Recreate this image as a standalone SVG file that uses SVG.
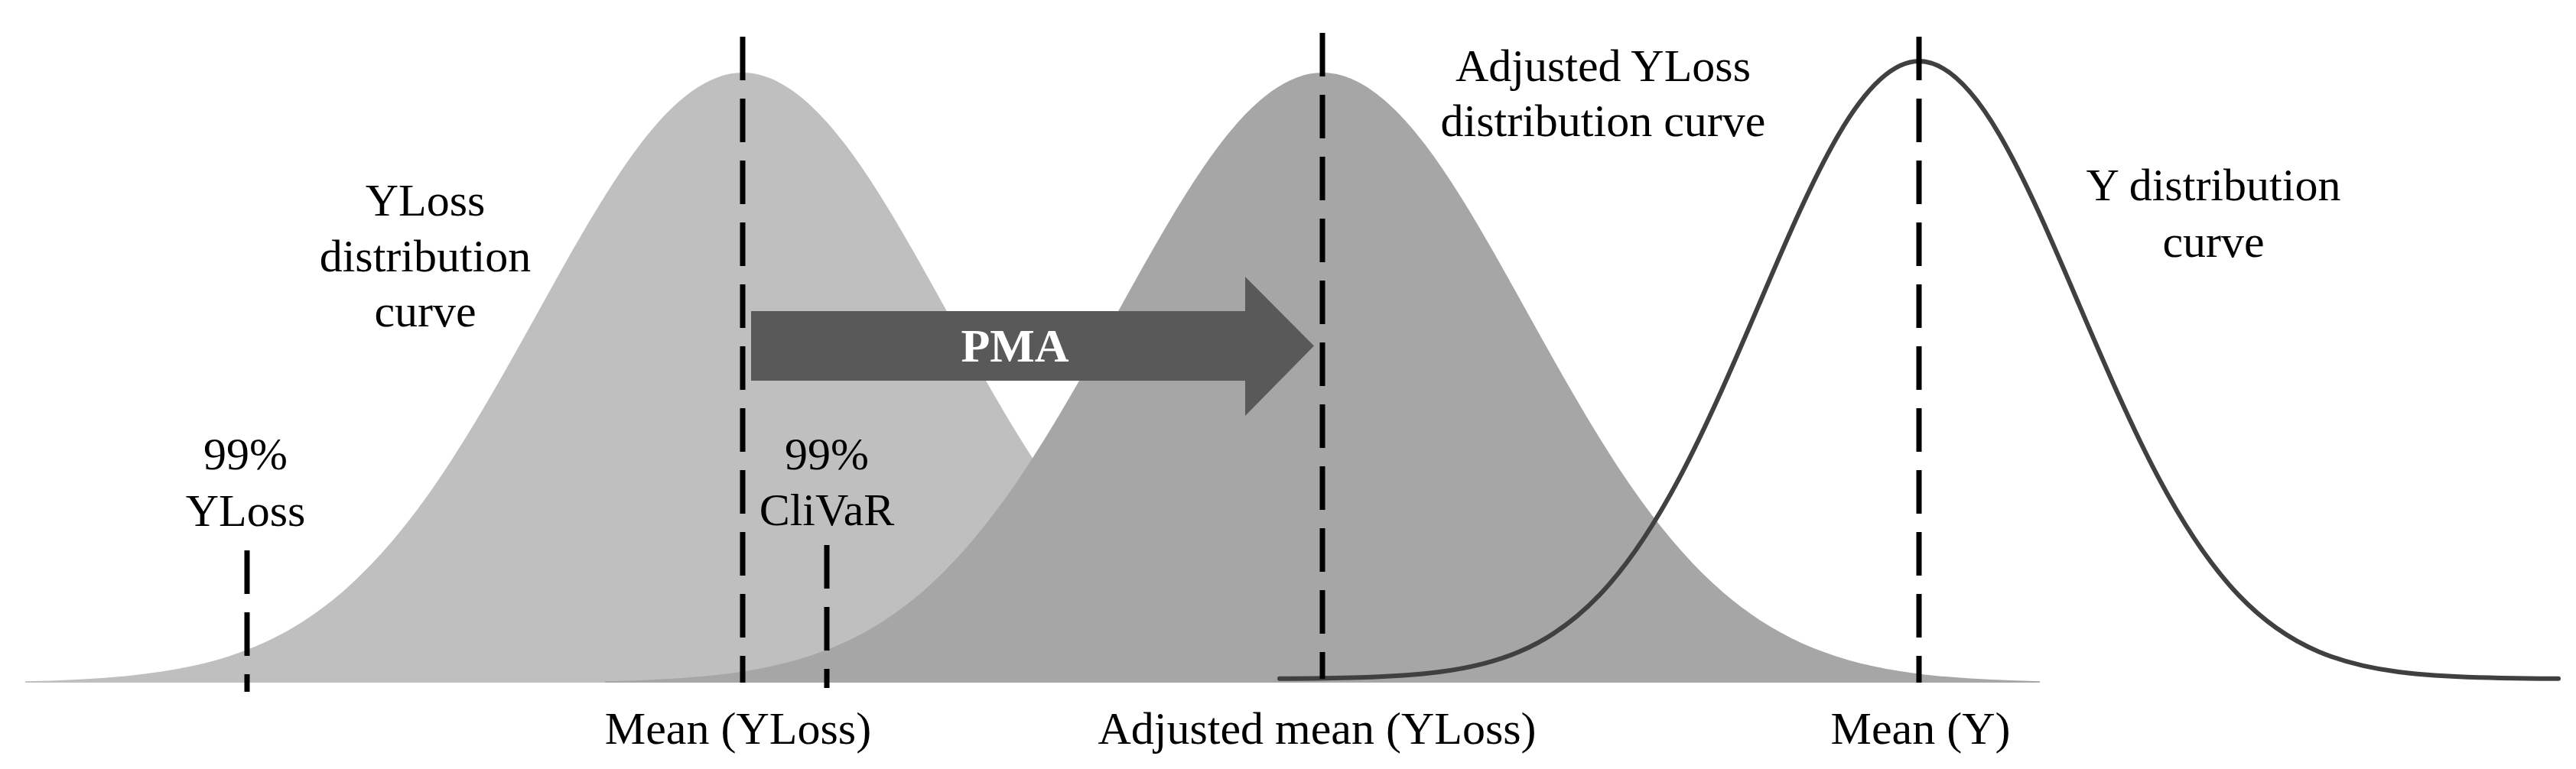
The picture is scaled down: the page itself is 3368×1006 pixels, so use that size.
<svg xmlns="http://www.w3.org/2000/svg" xmlns:xlink="http://www.w3.org/1999/xlink" width="3368" height="1006" viewBox="0 0 3368 1006">
<style>
.lbl{font-family:"Liberation Serif","Times New Roman",serif;font-size:60px;fill:#000;text-anchor:middle}
.pma{font-family:"Liberation Serif","Times New Roman",serif;font-size:62px;font-weight:bold;fill:#fff;text-anchor:middle}
.dash{stroke:#000;stroke-width:7;stroke-dasharray:57 24;fill:none}
</style>
<defs>
<path id="bellFill" d="M-3.5,-0.0021875 C-3.3333,-0.003464 -3.1667,-0.005554 -3,-0.011109 C-2.8333,-0.016664 -2.6667,-0.025632 -2.5,-0.04394 C-2.3333,-0.062248 -2.1667,-0.090228 -2,-0.13534 C-1.8333,-0.180452 -1.6667,-0.243487 -1.5,-0.32465 C-1.3333,-0.405813 -1.1667,-0.505442 -1,-0.60653 C-0.8333,-0.707618 -0.6667,-0.808958 -0.5,-0.8825 C-0.3333,-0.956042 -0.1667,-1 0,-1 C0.1667,-1 0.3333,-0.956042 0.5,-0.8825 C0.6667,-0.808958 0.8333,-0.707618 1,-0.60653 C1.1667,-0.505442 1.3333,-0.405813 1.5,-0.32465 C1.6667,-0.243487 1.8333,-0.180452 2,-0.13534 C2.1667,-0.090228 2.3333,-0.062248 2.5,-0.04394 C2.6667,-0.025632 2.8333,-0.016664 3,-0.011109 C3.1667,-0.005554 3.3333,-0.003464 3.5,-0.0021875 L3.5,0 L-3.5,0 Z"/>
</defs>
<rect width="3368" height="1006" fill="#fff"/>
<g id="yloss-curve">
<use xlink:href="#bellFill" href="#bellFill" transform="translate(971 893) scale(268 798)" fill="#BFBFBF"/>
</g>
<g id="adjusted-curve">
<use xlink:href="#bellFill" href="#bellFill" transform="translate(1729 893) scale(268 798)" fill="#A6A6A6"/>
</g>
<g id="y-curve">
<path transform="translate(2509 888) scale(209 808)" vector-effect="non-scaling-stroke" fill="none" stroke="#404040" stroke-width="6" stroke-linecap="round" d="M-4,-0.000335 C-3.8333,-0.000559 -3.6667,-0.000911 -3.5,-0.0021875 C-3.3333,-0.003464 -3.1667,-0.005554 -3,-0.011109 C-2.8333,-0.016664 -2.6667,-0.025632 -2.5,-0.04394 C-2.3333,-0.062248 -2.1667,-0.090228 -2,-0.13534 C-1.8333,-0.180452 -1.6667,-0.243487 -1.5,-0.32465 C-1.3333,-0.405813 -1.1667,-0.505442 -1,-0.60653 C-0.8333,-0.707618 -0.6667,-0.808958 -0.5,-0.8825 C-0.3333,-0.956042 -0.1667,-1 0,-1 C0.1667,-1 0.3333,-0.956042 0.5,-0.8825 C0.6667,-0.808958 0.8333,-0.707618 1,-0.60653 C1.1667,-0.505442 1.3333,-0.405813 1.5,-0.32465 C1.6667,-0.243487 1.8333,-0.180452 2,-0.13534 C2.1667,-0.090228 2.3333,-0.062248 2.5,-0.04394 C2.6667,-0.025632 2.8333,-0.016664 3,-0.011109 C3.1667,-0.005554 3.3333,-0.003464 3.5,-0.0021875 C3.6667,-0.000911 3.8333,-0.000559 4,-0.000335"/>
</g>
<g id="markers">
<line id="mean-yloss-line" class="dash" x1="971" y1="48" x2="971" y2="893"/>
<line id="adjusted-mean-line" class="dash" x1="1729" y1="43" x2="1729" y2="888"/>
<line id="mean-y-line" class="dash" x1="2509" y1="48" x2="2509" y2="893"/>
<line id="yloss99-line" class="dash" x1="323" y1="720" x2="323" y2="905"/>
<line id="clivar99-line" class="dash" x1="1081" y1="713" x2="1081" y2="900"/>
</g>
<g id="connectors">
<g id="pma-arrow">
<path d="M982,407 L1628,407 L1628,362 L1718,452.5 L1628,544 L1628,498 L982,498 Z" fill="#595959"/>
<text class="pma" x="1327" y="473">PMA</text>
</g>
</g>
<g id="labels">
<g id="label-yloss-curve"><text class="lbl" x="556" y="282">YLoss</text><text class="lbl" x="556" y="355">distribution</text><text class="lbl" x="556" y="427">curve</text></g>
<g id="label-adjusted-curve"><text class="lbl" x="2096" y="106">Adjusted YLoss</text><text class="lbl" x="2096" y="178">distribution curve</text></g>
<g id="label-y-curve"><text class="lbl" x="2894" y="262">Y distribution</text><text class="lbl" x="2894" y="336">curve</text></g>
<g id="label-yloss99"><text class="lbl" x="321" y="614">99%</text><text class="lbl" x="321" y="688">YLoss</text></g>
<g id="label-clivar99"><text class="lbl" x="1081" y="614">99%</text><text class="lbl" x="1081" y="687">CliVaR</text></g>
<g id="label-mean-yloss"><text class="lbl" x="965" y="973">Mean (YLoss)</text></g>
<g id="label-adjusted-mean"><text class="lbl" x="1722" y="973">Adjusted mean (YLoss)</text></g>
<g id="label-mean-y"><text class="lbl" x="2511" y="973">Mean (Y)</text></g>
</g>
</svg>
